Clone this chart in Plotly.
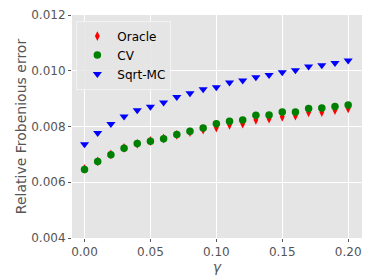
import plotly.graph_objects as go

gamma = [round(0.01 * i, 2) for i in range(21)]
oracle = [0.00648, 0.00675, 0.00700, 0.00723, 0.00738, 0.00748, 0.00757, 0.00770, 0.00780,
          0.00789, 0.00796, 0.00806, 0.00810, 0.00824, 0.00828, 0.00835, 0.00839, 0.00851,
          0.00852, 0.00859, 0.00865]
cv = [0.00646, 0.00674, 0.00699, 0.00722, 0.00739, 0.00747, 0.00756, 0.00771, 0.00783,
      0.00795, 0.00810, 0.00819, 0.00823, 0.00840, 0.00841, 0.00852, 0.00852, 0.00865,
      0.00866, 0.00872, 0.00877]
sqrt_mc = [0.00736, 0.00777, 0.00809, 0.00836, 0.00858, 0.00871, 0.00886, 0.00906, 0.00919,
           0.00934, 0.00941, 0.00958, 0.00965, 0.00977, 0.00985, 0.00995, 0.01002, 0.01015,
           0.01020, 0.01028, 0.01037]
yticks = [0.004, 0.006, 0.008, 0.010, 0.012]
xticks = [0.00, 0.05, 0.10, 0.15, 0.20]

fig = go.Figure()
fig.add_trace(go.Scatter(x=gamma, y=oracle, mode="markers", name="Oracle",
                         marker=dict(symbol="diamond-tall", color="red", size=7)))
fig.add_trace(go.Scatter(x=gamma, y=cv, mode="markers", name="CV",
                         marker=dict(symbol="circle", color="green", size=7.5)))
fig.add_trace(go.Scatter(x=gamma, y=sqrt_mc, mode="markers", name="Sqrt-MC",
                         marker=dict(symbol="triangle-down", color="blue", size=8)))

axis_common = dict(showgrid=True, gridcolor="white", gridwidth=1, zeroline=False,
                   ticks="outside", ticklen=3, tickcolor="#555555", automargin=False,
                   ticklabeloverflow="allow",
                   tickfont=dict(family="DejaVu Sans", size=12, color="#555555"),
                   showline=False)
fig.update_xaxes(range=[-0.0095, 0.2105], tickvals=xticks,
                 ticktext=[f"{v:.2f}" for v in xticks],
                 title=dict(text="<i>γ</i>", font=dict(family="DejaVu Sans", size=14, color="#555555"),
                            standoff=0),
                 **axis_common)
fig.update_yaxes(range=[0.004, 0.012], tickvals=yticks,
                 ticktext=[f"{v:.3f}" for v in yticks],
                 title=dict(text="Relative Frobenious error",
                            font=dict(family="DejaVu Sans", size=14, color="#555555"),
                            standoff=1),
                 **axis_common)
fig.update_layout(
    width=366, height=272,
    margin=dict(l=64, r=12, t=7, b=42),
    plot_bgcolor="#E5E5E5", paper_bgcolor="white",
    font=dict(family="DejaVu Sans"),
    showlegend=True,
    legend=dict(x=0.015, y=0.975, xanchor="left", yanchor="top",
                bgcolor="rgba(229,229,229,0.85)", bordercolor="#f2f2f2", borderwidth=1,
                font=dict(family="DejaVu Sans", size=12, color="black"),
                itemsizing="trace", tracegroupgap=0),
)
fig.write_html("out.html")
